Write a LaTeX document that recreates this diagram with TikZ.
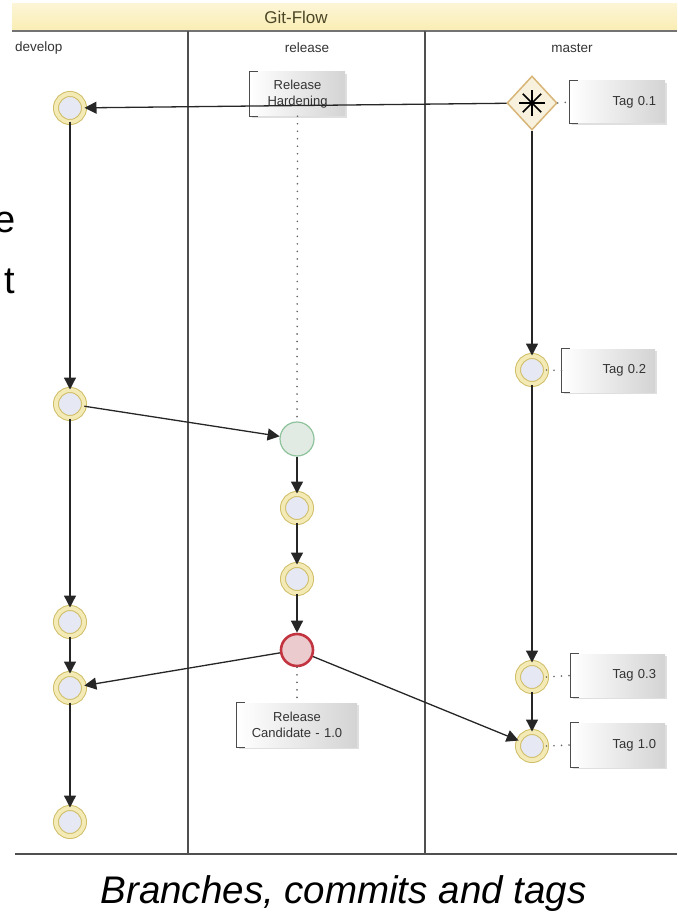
\documentclass[tikz,border=0pt]{standalone}
\usepackage{fontspec}
\setmainfont{Liberation Sans}
\usetikzlibrary{arrows.meta,shapes.geometric,shadows}
\definecolor{hdr}{HTML}{FAEDB3}
\definecolor{hdrtxt}{HTML}{4A4626}
\definecolor{lanecol}{HTML}{505050}
\definecolor{ringcol}{HTML}{D0BE68}
\definecolor{ringin}{HTML}{F3EAB6}
\definecolor{cfill}{HTML}{E6E8F3}
\definecolor{grncol}{HTML}{8DC29B}
\definecolor{grnfill}{HTML}{E2EBE3}
\definecolor{redcol}{HTML}{C23440}
\definecolor{redfill}{HTML}{EBCBCE}
\definecolor{diacol}{HTML}{D8B678}
\definecolor{diafill}{HTML}{F8F1DE}
\definecolor{txtcol}{HTML}{333333}
\definecolor{dotcol}{HTML}{666666}
\tikzset{
  lanetxt/.style={font=\fontsize{13.5}{16}\selectfont, text=txtcol, inner sep=0pt},
  commit/.style={circle, minimum size=28pt, inner sep=0pt, draw=ringcol, line width=1pt,
     double=ringin, double distance=4pt, fill=cfill},
  grncommit/.style={circle, minimum size=34pt, inner sep=0pt, draw=grncol, line width=1.2pt, fill=grnfill},
  redcommit/.style={circle, minimum size=32pt, inner sep=0pt, draw=redcol, line width=2.6pt, fill=redfill},
  tagbox/.style={rectangle, inner xsep=9pt, inner ysep=0pt, left color=white, right color=black!17,
     drop shadow={shadow xshift=2pt, shadow yshift=-2pt, opacity=0.25},
     font=\fontsize{13}{15.5}\selectfont, text=txtcol},
  bracketline/.style={draw=black!70, line width=1pt},
  conn/.style={draw=black!85, line width=1.3pt, -{Triangle[length=12pt,width=12pt]}},
  dotconn/.style={draw=dotcol, line width=1.8pt, line cap=round, dash pattern=on 0.01pt off 7.5pt},
}
\begin{document}
\begin{tikzpicture}[x=1pt,y=-1pt]
\useasboundingbox (0,0) rectangle (677,912);
\clip (0,0) rectangle (677,912);
% header
\shade[top color=hdr!55!white, bottom color=hdr] (12,4) rectangle (677,31);
\node[font=\fontsize{17}{20}\selectfont, text=hdrtxt] (title) at (296,17) {Git-Flow};
\draw[draw=black!55, line width=1.2pt] (12,31) -- (677,31);
% lanes
\draw[lanecol, line width=1.2pt] (188,31) -- (188,854);
\draw[lanecol, line width=1.2pt] (425,31) -- (425,854);
\draw[lanecol, line width=1.2pt] (15,854) -- (677,854);
\node[lanetxt, anchor=west] (ldev) at (15,48) {develop};
\node[lanetxt] (lrel) at (307,48) {release};
\node[lanetxt] (lmas) at (572,48) {master};

% annotations
\node[tagbox, text width=77pt, align=center, minimum height=44pt] (rh) at (297.5,94) {Release\\Hardening};
\node[tagbox, text width=102pt, align=center, minimum height=44pt] (rc) at (297,725) {Release\\Candidate - 1.0};
\node[tagbox, text width=77pt, align=right, minimum height=42pt] (t01) at (617.5,102) {Tag 0.1};
\node[tagbox, text width=75pt, align=right, minimum height=43pt] (t02) at (608.5,370.5) {Tag 0.2};
\node[tagbox, text width=76pt, align=right, minimum height=43pt] (t03) at (618,675.5) {Tag 0.3};
\node[tagbox, text width=76pt, align=right, minimum height=44pt] (t10) at (618,745) {Tag 1.0};
\foreach \n in {rh,rc,t01,t02,t03,t10}{
  \draw[bracketline] ([xshift=8pt]\n.north west) -| (\n.south west) -- ++(8,0);
}

% commits
\node[commit] (d1) at (70,108) {};
\node[commit] (d2) at (70,404) {};
\node[commit] (d3) at (70,622) {};
\node[commit] (d4) at (70,688) {};
\node[commit] (d5) at (70,822) {};
\node[grncommit] (g) at (297,439) {};
\node[commit] (r1) at (297,508) {};
\node[commit] (r2) at (297,579) {};
\node[redcommit] (rd) at (297,650) {};
\node[diamond, draw=diacol, line width=1.5pt, fill=diafill, minimum width=50pt, minimum height=54pt, inner sep=0pt] (dia) at (532,103) {};
\foreach \a in {0,45,90,135}{
  \draw[black, line width=1.7pt] (dia.center) ++(\a:13) -- ++(\a+180:26);
}
\node[commit] (m1) at (532,370) {};
\node[commit] (m2) at (532,677) {};
\node[commit] (m3) at (532,746) {};

% dotted associations
\draw[dotconn] (rh.south) -- (g.north);
\draw[dotconn] (rd.south) -- (rc.north);
\draw[dotconn] (dia.east) -- (t01.west);
\draw[dotconn] (m1.east) -- (t02.west);
\draw[dotconn] (m2.east) -- (t03.west);
\draw[dotconn] (m3.east) -- (t10.west);

% connectors
\draw[conn] (dia) -- (d1);
\draw[conn] (d1) -- (d2);
\draw[conn] (d2) -- (d3);
\draw[conn] (d3) -- (d4);
\draw[conn] (d4) -- (d5);
\draw[conn] (d2) -- (g);
\draw[conn] (g) -- (r1);
\draw[conn] (r1) -- (r2);
\draw[conn] (r2) -- (rd);
\draw[conn] (rd) -- (d4);
\draw[conn] (rd) -- (m3);
\draw[conn] (dia) -- (m1);
\draw[conn] (m1) -- (m2);
\draw[conn] (m2) -- (m3);

% caption and page fragments
\node[font=\fontsize{38.5}{44}\selectfont\itshape, anchor=base, inner sep=0pt] (cap) at (343.5,903) {Branches, commits and tags};
\node[font=\fontsize{38}{44}\selectfont, anchor=base east, inner sep=0pt] (fe) at (15.5,232) {e};
\node[font=\fontsize{38}{44}\selectfont, anchor=base east, inner sep=0pt] (ft) at (15,293) {t};
\end{tikzpicture}
\end{document}
